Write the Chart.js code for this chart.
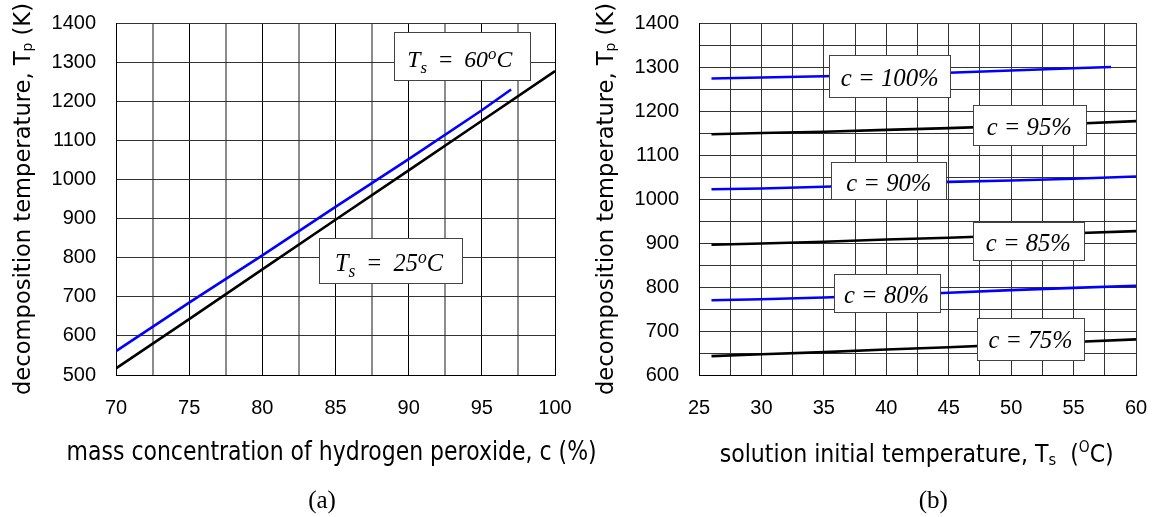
<!DOCTYPE html>
<html><head><meta charset="utf-8">
<script src="https://cdn.jsdelivr.net/npm/chart.js@4/dist/chart.umd.min.js"></script>
<style>
html,body{margin:0;padding:0;background:#fff;overflow:hidden}
#wrap{position:relative;width:1157px;height:517px;background:#fff}
#ca{position:absolute;left:0;top:0}
#cb{position:absolute;left:580px;top:0}
</style></head><body>
<div id="wrap"><canvas id="ca" width="620" height="517"></canvas><canvas id="cb" width="577" height="517"></canvas></div>
<script>
// ---------- Panel (a) data ----------
const concA25 = [70, 75, 80, 85, 90, 95, 100];
const tpA25   = [517, 643, 770, 897, 1023, 1150, 1277];
const concA60 = [70, 75, 80, 85, 90, 95, 97];
const tpA60   = [561, 685, 806, 930, 1052, 1177, 1230];
const labelsA = ['25', '60'];

// ---------- Panel (b) data ----------
const tsB    = [26, 30, 35, 40, 45, 50, 55, 60];
const tsB100 = [26, 30, 35, 40, 45, 50, 55, 58];
const tpC75  = [643, 647, 652, 658, 663, 669, 675, 681];
const tpC80  = [770, 772, 776, 781, 787, 793, 798, 803];
const tpC85  = [896, 899, 903, 908, 912, 917, 922, 927];
const tpC90  = [1022, 1024, 1028, 1033, 1039, 1042, 1046, 1051];
const tpC95  = [1147, 1150, 1153, 1157, 1161, 1166, 1171, 1177];
const tpC100 = [1274, 1276, 1279, 1283, 1287, 1292, 1297, 1300];
const labelsB = ['c = 75%', 'c = 80%', 'c = 85%', 'c = 90%', 'c = 95%', 'c = 100%'];

const BLUE = '#0000ff', BLACK = '#000000';
const SANS = 'DejaVu Sans';
const SERIF = 'Liberation Serif';
const tickFont = {family: 'Liberation Sans, Arial, sans-serif', size: 20};

function pts(xs, ys) { return xs.map((x, i) => ({x: x, y: ys[i]})); }

function drawRich(ctx, segs, x, y, targetW, rot) {
  ctx.save();
  const ws = segs.map(s => { ctx.font = s.f; return ctx.measureText(s.t).width; });
  const total = ws.reduce((a, b) => a + b, 0);
  ctx.translate(x, y);
  if (rot) ctx.rotate(rot);
  if (targetW) ctx.scale(targetW / total, 1);
  ctx.textAlign = 'left'; ctx.textBaseline = 'alphabetic'; ctx.fillStyle = '#000';
  let cx = -total / 2;
  segs.forEach((s, i) => { ctx.font = s.f; ctx.fillText(s.t, cx, s.dy || 0); cx += ws[i]; });
  ctx.restore();
}

function overlay(boxes, texts) {
  return {
    id: 'overlay',
    afterDatasetsDraw(chart) {
      const ctx = chart.ctx, xs = chart.scales.x, ys = chart.scales.y;
      boxes.forEach(b => {
        const cx = xs.getPixelForValue(b.x), cy = ys.getPixelForValue(b.y);
        const l = Math.round(cx - b.w / 2) + 0.5, t = Math.round(cy - b.h / 2) + 0.5;
        ctx.save();
        ctx.fillStyle = '#fff'; ctx.fillRect(l, t, b.w, b.h);
        ctx.strokeStyle = '#444'; ctx.lineWidth = 1; ctx.strokeRect(l, t, b.w, b.h);
        ctx.restore();
        drawRich(ctx, b.segs, cx + (b.dx || 0), cy + b.base, b.tw || 0, 0);
      });
    },
    afterDraw(chart) {
      texts.forEach(t => drawRich(chart.ctx, t.segs, t.x, t.y, t.w, t.rot));
    }
  };
}

function tsSegs(val, size) {
  const sub = Math.round(size * 0.7);
  return [
    {t: 'T', f: 'italic ' + size + 'px ' + SERIF},
    {t: 's', f: 'italic ' + sub + 'px ' + SERIF, dy: 6},
    {t: '  =  ', f: size + 'px ' + SERIF},
    {t: val, f: 'italic ' + size + 'px ' + SERIF},
    {t: 'o', f: 'italic ' + sub + 'px ' + SERIF, dy: -8},
    {t: 'C', f: 'italic ' + size + 'px ' + SERIF}
  ];
}

function baseOptions(xmin, xmax, xstep, xmajor, ymin, ymax, ystep, ymajor, yWidth, padRight, gridX, gridY) {
  return {
    responsive: false, animation: false, devicePixelRatio: 1,
    layout: {padding: {left: 0, right: padRight, top: 23, bottom: 0}},
    plugins: {legend: {display: false}, tooltip: {enabled: false}},
    elements: {point: {radius: 0}, line: {tension: 0, borderWidth: 2.6}},
    scales: {
      x: {
        type: 'linear', min: xmin, max: xmax,
        ticks: {stepSize: xstep, autoSkip: false, maxRotation: 0, padding: 21, color: '#000', font: tickFont,
                callback: v => (Math.abs(v % xmajor) < 1e-6 ? String(v) : '')},
        grid: {drawTicks: false, color: gridX.color, lineWidth: gridX.width},
        border: {color: '#000', width: 1},
        afterFit: s => { s.height = 142; s.paddingLeft = 0; s.paddingRight = 0; }
      },
      y: {
        type: 'linear', min: ymin, max: ymax,
        ticks: {stepSize: ystep, autoSkip: false, padding: 20, color: '#000', font: tickFont,
                callback: v => (Math.abs(v % ymajor) < 1e-6 ? String(v) : '')},
        grid: {drawTicks: false, color: gridY.color, lineWidth: gridY.width},
        border: {color: '#000', width: 1},
        afterFit: s => { s.width = yWidth; s.paddingTop = 0; s.paddingBottom = 0; }
      }
    }
  };
}

// ---------- Chart (a) ----------
const boxesA = [
  {x: 93.63, y: 1316, w: 136, h: 48, base: 11, dx: -2, tw: 105, segs: tsSegs(labelsA[1], 24)},
  {x: 88.79, y: 794, w: 143, h: 45, base: 11, dx: -2, tw: 108, segs: tsSegs(labelsA[0], 25)}
];
const textsA = [
  {segs: [{t: 'decomposition temperature, T', f: '23px ' + SANS},
          {t: 'p', f: '14px ' + SANS, dy: 2},
          {t: ' (K)', f: '23px ' + SANS}], x: 29.5, y: 199, w: 392, rot: -Math.PI / 2},
  {segs: [{t: 'mass concentration of hydrogen peroxide, c (%)', f: '26px ' + SANS}], x: 331.6, y: 460, w: 530},
  {segs: [{t: '(a)', f: '25px ' + SERIF}], x: 322, y: 508}
];
const optA = baseOptions(70, 100, 2.5, 5, 500, 1400, 100, 100, 116, 65,
  {color: c => (c.tick && Math.abs(c.tick.value % 5) < 1e-6 ? '#000' : '#8c8c8c'),
   width: c => (c.tick && Math.abs(c.tick.value % 5) < 1e-6 ? 1 : 2)},
  {color: '#333', width: 1});
new Chart(document.getElementById('ca'), {
  type: 'line',
  data: {datasets: [
    {label: 'Ts = 25 °C', data: pts(concA25, tpA25), borderColor: BLACK},
    {label: 'Ts = 60 °C', data: pts(concA60, tpA60), borderColor: BLUE}
  ]},
  options: optA,
  plugins: [overlay(boxesA, textsA)]
});

// ---------- Chart (b) ----------
const cFont = 'italic 26px ' + SERIF;
const boxesB = [
  {x: 51.55, y: 681.7, w: 107, h: 42, base: 9, tw: 84, segs: [{t: labelsB[0], f: cFont}]},
  {x: 40.02, y: 786,   w: 106, h: 38, base: 10, tw: 85, segs: [{t: labelsB[1], f: cFont}]},
  {x: 51.38, y: 904.7, w: 111, h: 38, base: 10, tw: 85, segs: [{t: labelsB[2], f: cFont}]},
  {x: 40.2,  y: 1041.5, w: 115, h: 37, base: 10, tw: 85, segs: [{t: labelsB[3], f: cFont}]},
  {x: 51.45, y: 1167.5, w: 113, h: 40, base: 10, tw: 85, segs: [{t: labelsB[4], f: cFont}]},
  {x: 40.28, y: 1280.2, w: 121, h: 42, base: 10, tw: 98, segs: [{t: labelsB[5], f: cFont}]}
];
const textsB = [
  {segs: [{t: 'decomposition temperature, T', f: '23px ' + SANS},
          {t: 'p', f: '14px ' + SANS, dy: 2},
          {t: ' (K)', f: '23px ' + SANS}], x: 33, y: 199, w: 392, rot: -Math.PI / 2},
  {segs: [{t: 'solution initial temperature, T', f: '24px ' + SANS},
          {t: 's', f: '16px ' + SANS, dy: 3},
          {t: '  (', f: '24px ' + SANS},
          {t: 'O', f: '15px ' + SANS, dy: -10},
          {t: 'C)', f: '24px ' + SANS}], x: 336.7, y: 462, w: 394},
  {segs: [{t: '(b)', f: '25px ' + SERIF}], x: 353.3, y: 508}
];
const optB = baseOptions(25, 60, 2.5, 5, 600, 1400, 50, 100, 119, 21,
  {color: '#333', width: 1}, {color: '#333', width: 1});
new Chart(document.getElementById('cb'), {
  type: 'line',
  data: {datasets: [
    {label: labelsB[0], data: pts(tsB, tpC75), borderColor: BLACK},
    {label: labelsB[1], data: pts(tsB, tpC80), borderColor: BLUE},
    {label: labelsB[2], data: pts(tsB, tpC85), borderColor: BLACK},
    {label: labelsB[3], data: pts(tsB, tpC90), borderColor: BLUE},
    {label: labelsB[4], data: pts(tsB, tpC95), borderColor: BLACK},
    {label: labelsB[5], data: pts(tsB100, tpC100), borderColor: BLUE}
  ]},
  options: optB,
  plugins: [overlay(boxesB, textsB)]
});
</script>
</body></html>
